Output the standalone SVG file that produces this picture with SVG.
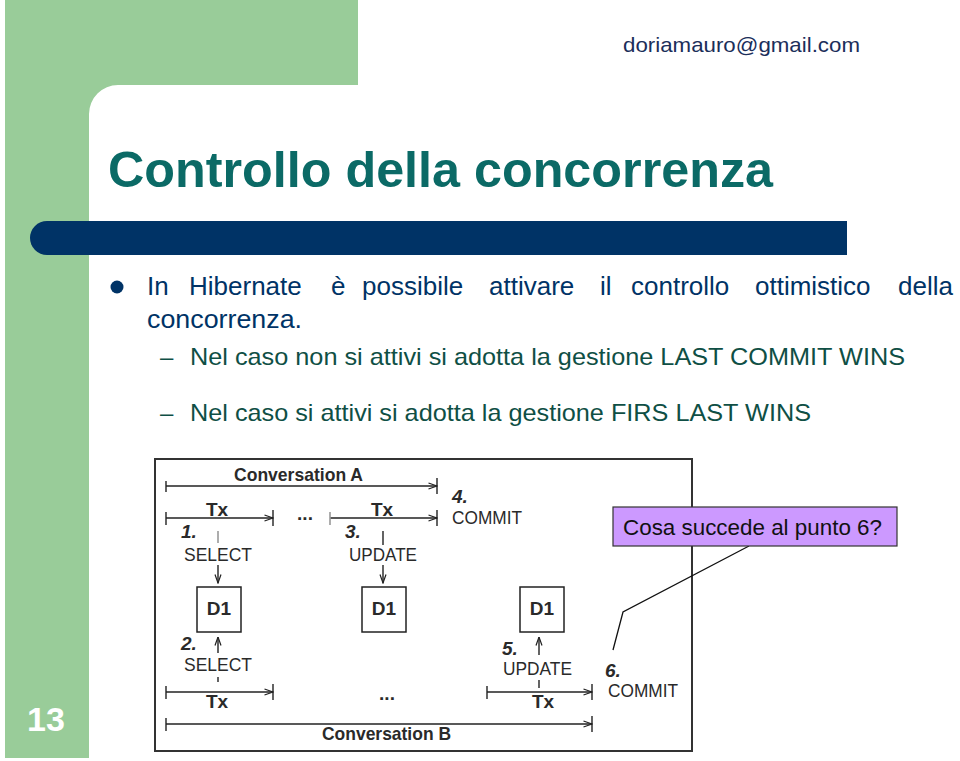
<svg xmlns="http://www.w3.org/2000/svg" width="960" height="761" viewBox="0 0 960 761">
<defs>
<style>
.sans{font-family:"Liberation Sans",Arial,sans-serif}
.dg{font-family:"Liberation Sans",Arial,sans-serif;fill:#2a2a2a;font-size:19px}
.b{font-weight:bold}
.bi{font-weight:bold;font-style:italic}
.ln{stroke:#222;stroke-width:1.4;fill:none}
.tk{stroke:#222;stroke-width:1.4}
.tkg{stroke:#999;stroke-width:1.6}
.box{fill:#fff;stroke:#222;stroke-width:1.5}
.sub{font-family:"Liberation Sans",Arial,sans-serif;fill:#0f4f45;font-size:24px}
</style>
<marker id="ah" viewBox="0 0 10 8" refX="9.5" refY="4" markerWidth="10" markerHeight="8" markerUnits="userSpaceOnUse" orient="auto">
<polyline points="1,1 9.5,4 1,7" fill="none" stroke="#222" stroke-width="1.2"/>
</marker>
</defs>
<rect width="960" height="761" fill="#fff"/>
<g id="background">
<path d="M5,0 H358 V85 H118 A29,29 0 0 0 89,114 V758 H5 Z" fill="#99cc99"/>
<path d="M47,221 H847 V255 H47 A17,17 0 0 1 47,221 Z" fill="#003366"/>
<text x="27" y="731" class="sans b" font-size="34" fill="#fff">13</text>
<text x="623" y="52" class="sans" font-size="21" fill="#1b2e5a" textLength="237" lengthAdjust="spacingAndGlyphs">doriamauro@gmail.com</text>
</g>
<g id="title">
<text x="108" y="187" class="sans b" font-size="50" fill="#0b6a66" textLength="665" lengthAdjust="spacingAndGlyphs">Controllo della concorrenza</text>
</g>
<g id="bullets">
<circle cx="117" cy="287" r="6.5" fill="#003366"/>
<text y="295" class="sans" font-size="26" fill="#003366"><tspan x="147">In</tspan><tspan x="189">Hibernate</tspan><tspan x="331">è</tspan><tspan x="362">possibile</tspan><tspan x="489">attivare</tspan><tspan x="600">il</tspan><tspan x="631">controllo</tspan><tspan x="755">ottimistico</tspan><tspan x="898">della</tspan></text>
<text x="147" y="328" class="sans" font-size="26" fill="#003366" textLength="155" lengthAdjust="spacingAndGlyphs">concorrenza.</text>
<text x="160" y="365" class="sub">–</text>
<text x="190" y="365" class="sub" textLength="715" lengthAdjust="spacingAndGlyphs">Nel caso non si attivi si adotta la gestione LAST COMMIT WINS</text>
<text x="160" y="421" class="sub">–</text>
<text x="190" y="421" class="sub" textLength="621" lengthAdjust="spacingAndGlyphs">Nel caso si attivi si adotta la gestione FIRS LAST WINS</text>
</g>
<g id="diagram-frame">
<rect x="155" y="459" width="537" height="292" fill="#fff" stroke="#333" stroke-width="2"/>
</g>
<g id="connectors">
<line class="ln" x1="166" y1="486" x2="437" y2="486" marker-end="url(#ah)"/>
<line class="tk" x1="166" y1="481" x2="166" y2="492"/>
<line class="tk" x1="437" y1="478" x2="437" y2="494"/>
<line class="ln" x1="166" y1="518" x2="273" y2="518" marker-end="url(#ah)"/>
<line class="tk" x1="166" y1="512" x2="166" y2="525"/>
<line class="tk" x1="273" y1="510" x2="273" y2="526"/>
<line class="ln" x1="330" y1="518" x2="437" y2="518" marker-end="url(#ah)"/>
<line class="tkg" x1="330" y1="512" x2="330" y2="525"/>
<line class="tk" x1="437" y1="510" x2="437" y2="526"/>
<line class="ln" x1="166" y1="692" x2="273" y2="692" marker-end="url(#ah)"/>
<line class="tk" x1="166" y1="686" x2="166" y2="699"/>
<line class="tk" x1="273" y1="684" x2="273" y2="700"/>
<line class="ln" x1="487" y1="692" x2="592" y2="692" marker-end="url(#ah)"/>
<line class="tk" x1="487" y1="686" x2="487" y2="699"/>
<line class="tk" x1="592" y1="684" x2="592" y2="700"/>
<line class="ln" x1="166" y1="724" x2="592" y2="724" marker-end="url(#ah)"/>
<line class="tk" x1="166" y1="718" x2="166" y2="731"/>
<line class="tk" x1="592" y1="716" x2="592" y2="732"/>
<line class="tkg" x1="218" y1="531" x2="218" y2="543"/>
<line class="ln" x1="218" y1="565" x2="218" y2="583" marker-end="url(#ah)"/>
<line class="tk" x1="383" y1="531" x2="383" y2="545" stroke-width="2"/>
<line class="ln" x1="383" y1="565" x2="383" y2="583" marker-end="url(#ah)"/>
<line class="ln" x1="218" y1="653" x2="218" y2="637" marker-end="url(#ah)"/>
<line class="tk" x1="218" y1="677" x2="218" y2="682" stroke-width="2"/>
<line class="ln" x1="539" y1="655" x2="539" y2="637" marker-end="url(#ah)" stroke-width="1.8"/>
<line class="tk" x1="539" y1="680" x2="539" y2="688" stroke-width="2.4"/>
<polyline points="749,546 623,612 613,650" fill="none" stroke="#111" stroke-width="1.3"/>
</g>
<g id="labels-A">
<text x="234" y="481" class="dg b" textLength="129" lengthAdjust="spacingAndGlyphs">Conversation A</text>
<text x="217" y="516" class="dg b" text-anchor="middle">Tx</text>
<text x="382" y="516" class="dg b" text-anchor="middle">Tx</text>
<text x="305" y="520" class="dg b" font-size="15" text-anchor="middle">...</text>
<text x="181" y="538" class="dg bi">1.</text>
<text x="345" y="538" class="dg bi">3.</text>
<text x="452" y="503" class="dg bi">4.</text>
<text x="184" y="561" class="dg" textLength="68" lengthAdjust="spacingAndGlyphs">SELECT</text>
<text x="349" y="561" class="dg" textLength="68" lengthAdjust="spacingAndGlyphs">UPDATE</text>
<text x="452" y="524" class="dg" textLength="70" lengthAdjust="spacingAndGlyphs">COMMIT</text>
</g>
<g id="node-d1-a">
<rect class="box" x="197" y="587" width="44" height="45"/>
<text x="219" y="615" class="dg b" text-anchor="middle">D1</text>
</g>
<g id="node-d1-b">
<rect class="box" x="362" y="587" width="44" height="45"/>
<text x="384" y="615" class="dg b" text-anchor="middle">D1</text>
</g>
<g id="node-d1-c">
<rect class="box" x="520" y="587" width="44" height="45"/>
<text x="542" y="615" class="dg b" text-anchor="middle">D1</text>
</g>
<g id="labels-B">
<text x="181" y="650" class="dg bi" font-size="18">2.</text>
<text x="184" y="671" class="dg" textLength="68" lengthAdjust="spacingAndGlyphs">SELECT</text>
<text x="217" y="708" class="dg b" text-anchor="middle">Tx</text>
<text x="387" y="700" class="dg b" font-size="15" text-anchor="middle">...</text>
<text x="502" y="655" class="dg bi">5.</text>
<text x="503" y="675" class="dg" textLength="69" lengthAdjust="spacingAndGlyphs">UPDATE</text>
<text x="543" y="708" class="dg b" text-anchor="middle">Tx</text>
<text x="605" y="677" class="dg bi">6.</text>
<text x="608" y="697" class="dg" textLength="70" lengthAdjust="spacingAndGlyphs">COMMIT</text>
<text x="322" y="740" class="dg b" textLength="129" lengthAdjust="spacingAndGlyphs">Conversation B</text>
</g>
<g id="callout">
<rect x="613" y="507" width="284" height="39" fill="#cc99ff" stroke="#333" stroke-width="1.2"/>
<text x="623" y="535" class="sans" font-size="22" fill="#111" textLength="259" lengthAdjust="spacingAndGlyphs">Cosa succede al punto 6?</text>
</g>
</svg>
